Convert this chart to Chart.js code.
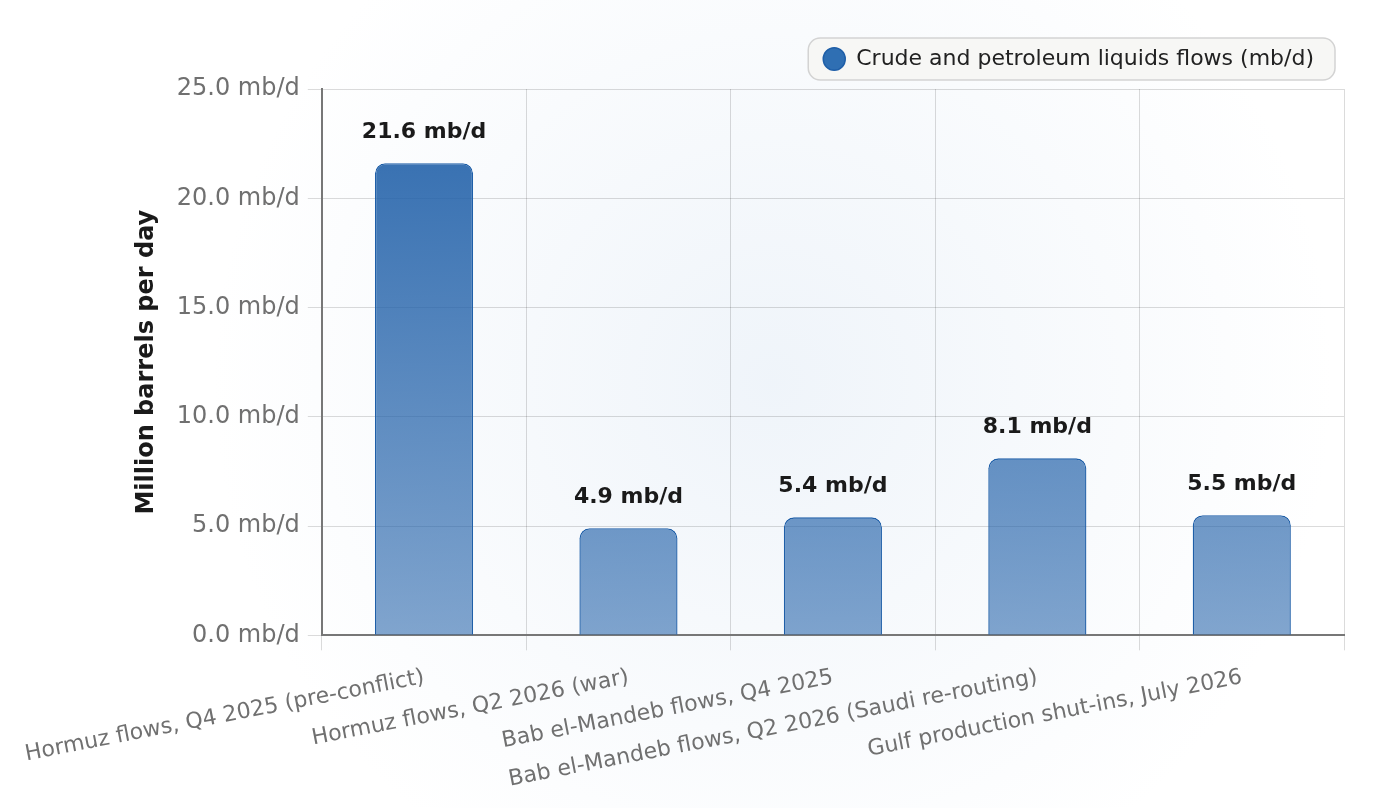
<!DOCTYPE html>
<html>
<head>
<meta charset="utf-8">
<script src="https://cdn.jsdelivr.net/npm/chart.js@4.4.1/dist/chart.umd.min.js"></script>
<style>
  html, body { margin: 0; padding: 0; background: #ffffff; }
  #wrap { width: 1380px; height: 808px; }
</style>
</head>
<body>
<div id="wrap"><canvas id="flows" width="1380" height="808"></canvas></div>
<script>
// chart values
const categories = [
  'Hormuz flows, Q4 2025 (pre-conflict)',
  'Hormuz flows, Q2 2026 (war)',
  'Bab el-Mandeb flows, Q4 2025',
  'Bab el-Mandeb flows, Q2 2026 (Saudi re-routing)',
  'Gulf production shut-ins, July 2026'
];
const flowValues = [21.6, 4.9, 5.4, 8.1, 5.5];
const seriesLabel = 'Crude and petroleum liquids flows (mb/d)';
const axisTitle = 'Million barrels per day';
const unit = 'mb/d';

const FONT = "'DejaVu Sans', Verdana, sans-serif";

// a little extra room under the legend
const legendGap = {
  id: 'legendGap',
  beforeInit(chart) {
    const legend = chart.legend;
    if (!legend) return;
    const fit = legend.fit;
    legend.fit = function () {
      fit.call(this);
      this.height += 9;
    };
  }
};

// soft background glow + rounded box behind the legend
const backdrop = {
  id: 'backdrop',
  beforeDraw(chart) {
    const { ctx, width, height, chartArea } = chart;
    ctx.save();
    ctx.fillStyle = '#ffffff';
    ctx.fillRect(0, 0, width, height);
    const cx = (chartArea.left + chartArea.right) / 2 - 60;
    const cy = (chartArea.top + chartArea.bottom) / 2 + 20;
    const g = ctx.createRadialGradient(cx, cy, 0, cx, cy, 560);
    g.addColorStop(0, 'rgba(215,228,242,0.4)');
    g.addColorStop(1, 'rgba(215,228,242,0)');
    ctx.fillStyle = g;
    ctx.fillRect(0, 0, width, height);

    const boxes = chart.legend && chart.legend.legendHitBoxes;
    if (boxes && boxes.length) {
      const b = boxes[0];
      const x = b.left - 15, y = b.top + b.height / 2 - 21, w = b.width + 36, h = 42;
      ctx.beginPath();
      ctx.roundRect(x, y, w, h, 12);
      ctx.fillStyle = '#f7f7f5';
      ctx.fill();
      ctx.lineWidth = 1.5;
      ctx.strokeStyle = '#d3d3d3';
      ctx.stroke();
    }
    ctx.restore();
  }
};

// value text above each bar
const valueTags = {
  id: 'valueTags',
  afterDatasetsDraw(chart) {
    const { ctx } = chart;
    const meta = chart.getDatasetMeta(0);
    ctx.save();
    ctx.font = 'bold 22px ' + FONT;
    ctx.fillStyle = '#1a1a1a';
    ctx.textAlign = 'center';
    ctx.textBaseline = 'middle';
    meta.data.forEach((bar, i) => {
      ctx.fillText(flowValues[i].toFixed(1) + ' ' + unit, bar.x, bar.y - 31);
    });
    ctx.restore();
  }
};

function barFill(context) {
  const area = context.chart.chartArea;
  if (!area) return 'rgba(31,95,168,0.75)';
  const g = context.chart.ctx.createLinearGradient(0, area.top, 0, area.bottom);
  g.addColorStop(0, 'rgba(31,95,168,0.93)');
  g.addColorStop(1, 'rgba(31,95,168,0.56)');
  return g;
}

new Chart(document.getElementById('flows'), {
  type: 'bar',
  data: {
    labels: categories,
    datasets: [{
      label: seriesLabel,
      data: flowValues,
      backgroundColor: barFill,
      borderColor: '#1f5fa8',
      borderWidth: 1.3,
      borderRadius: 10,
      barPercentage: 0.8,
      categoryPercentage: 0.6
    }]
  },
  options: {
    responsive: false,
    animation: false,
    devicePixelRatio: 1,
    layout: { padding: { top: 18, right: 36, left: 132, bottom: 13 } },
    plugins: {
      tooltip: { enabled: false },
      legend: {
        position: 'top',
        align: 'end',
        labels: {
          usePointStyle: true,
          pointStyle: 'circle',
          pointStyleWidth: 22,
          boxHeight: 16,
          padding: 30,
          color: '#222222',
          font: { family: FONT, size: 22 },
          generateLabels(chart) {
            return [{
              text: seriesLabel,
              fillStyle: '#2f6fb3',
              strokeStyle: '#1f5fa8',
              lineWidth: 1.5,
              pointStyle: 'circle',
              datasetIndex: 0,
              fontColor: '#222222'
            }];
          }
        }
      }
    },
    scales: {
      x: {
        afterFit(scale) {
          // the first slanted label already fits; don't let it push the plot right
          scale.paddingLeft = 0;
          // let the slanted labels sit a bit lower, into the bottom margin
          scale.height -= 12;
        },
        grid: {
          offset: true,
          color: 'rgba(0,0,0,0.14)',
          tickLength: 15
        },
        border: { color: '#777777', width: 2 },
        ticks: {
          color: '#707070',
          font: { family: FONT, size: 22 },
          minRotation: 11,
          maxRotation: 11,
          padding: 14
        }
      },
      y: {
        min: 0,
        max: 25,
        grid: {
          color: 'rgba(0,0,0,0.14)',
          tickLength: 14
        },
        border: { color: '#777777', width: 2 },
        ticks: {
          stepSize: 5,
          color: '#707070',
          font: { family: FONT, size: 24 },
          padding: 8,
          callback: v => Number(v).toFixed(1) + ' ' + unit
        },
        title: {
          display: true,
          text: axisTitle,
          color: '#1a1a1a',
          font: { family: FONT, size: 24, weight: 'bold' },
          padding: { top: 0, bottom: 8 }
        }
      }
    }
  },
  plugins: [legendGap, backdrop, valueTags]
});
</script>
</body>
</html>
